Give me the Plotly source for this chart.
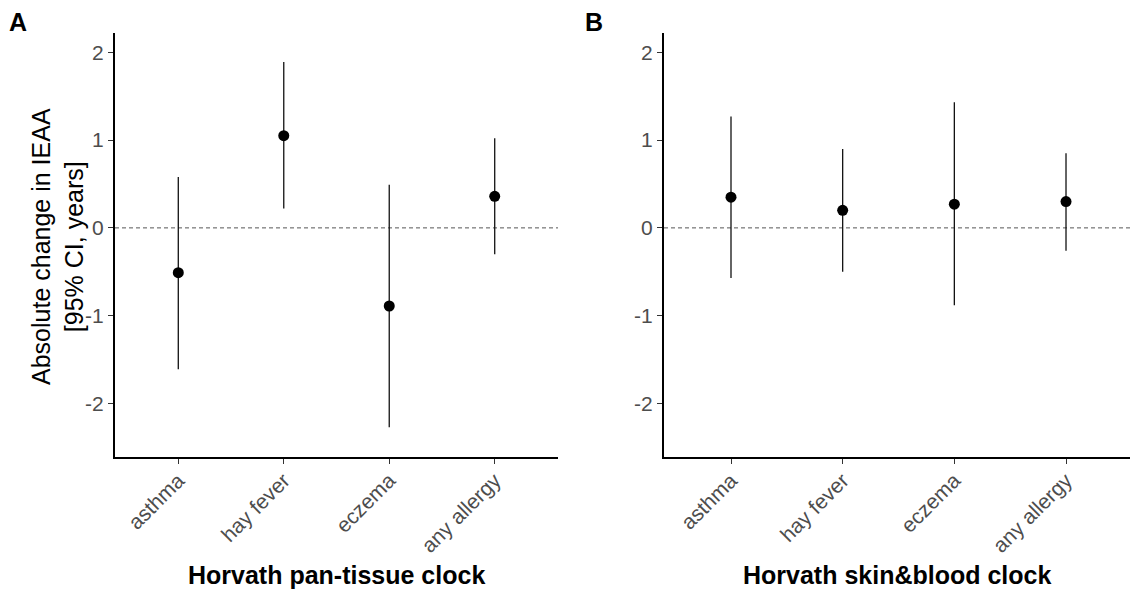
import plotly.graph_objects as go

categories = ["asthma", "hay fever", "eczema", "any allergy"]

# Panel A: Horvath pan-tissue clock
a_est = [-0.51, 1.05, -0.89, 0.36]
a_lo = [-1.61, 0.22, -2.27, -0.30]
a_hi = [0.58, 1.89, 0.49, 1.02]

# Panel B: Horvath skin&blood clock
b_est = [0.35, 0.20, 0.27, 0.30]
b_lo = [-0.57, -0.50, -0.88, -0.26]
b_hi = [1.27, 0.90, 1.43, 0.85]

y_ticks = [-2, -1, 0, 1, 2]
y_ticklabels = ["-2", "-1", "0", "1", "2"]

panel_titles = ["Horvath pan-tissue clock", "Horvath skin&blood clock"]
panel_tags = ["A", "B"]
y_title = "Absolute change in IEAA<br>[95% CI, years]"

FONT = "Liberation Sans, Arial, sans-serif"
W, H = 1130, 590
TOP, BOT = 33, 457

fig = go.Figure()

xpos = [1, 2, 3, 4]
for i, (est, lo, hi) in enumerate([(a_est, a_lo, a_hi), (b_est, b_lo, b_hi)]):
    xa = "x" if i == 0 else "x2"
    ya = "y" if i == 0 else "y2"
    fig.add_trace(go.Scatter(
        x=xpos, y=est,
        mode="markers",
        marker=dict(color="black", size=11),
        error_y=dict(type="data", symmetric=False,
                     array=[h - e for h, e in zip(hi, est)],
                     arrayminus=[e - l for e, l in zip(est, lo)],
                     color="#111111", thickness=1.3, width=0),
        xaxis=xa, yaxis=ya, showlegend=False, hoverinfo="skip",
    ))

common_x = dict(
    tickmode="array", tickvals=xpos, ticktext=categories, tickangle=-45,
    showline=True, linecolor="black", linewidth=2, showgrid=False, zeroline=False,
    ticks="outside", ticklen=5, tickcolor="#333333", tickwidth=1,
    ticklabelstandoff=-4,
    tickfont=dict(family=FONT, size=21, color="#4D4D4D"),
)
common_y = dict(
    range=[-2.61, 2.22], tickmode="array", tickvals=y_ticks, ticktext=y_ticklabels,
    showline=True, linecolor="black", linewidth=2, showgrid=False, zeroline=False,
    ticks="outside", ticklen=5, tickcolor="#333333", tickwidth=1,
    tickfont=dict(family=FONT, size=21, color="#4D4D4D"),
)

dA = [115 / W, 558 / W]
dB = [664 / W, 1.0]

fig.update_layout(
    width=W, height=H,
    margin=dict(l=0, r=0, t=TOP, b=H - BOT, autoexpand=False),
    paper_bgcolor="white", plot_bgcolor="white",
    xaxis=dict(domain=dA, range=[0.4, 4.6], anchor="y", **common_x),
    yaxis=dict(domain=[0, 1], anchor="x", **common_y),
    xaxis2=dict(domain=dB, range=[0.4, 4.573], anchor="y2", **common_x),
    yaxis2=dict(domain=[0, 1], anchor="x2", **common_y),
    font=dict(family=FONT),
)

# dashed zero reference lines
for xr, yr in [("x domain", "y"), ("x2 domain", "y2")]:
    fig.add_shape(type="line", xref=xr, yref=yr, x0=0, x1=1, y0=0, y1=0,
                  line=dict(color="#555555", width=1, dash="4px,3px"), layer="below")

ph = BOT - TOP
def py(pix):
    return (BOT - pix) / ph

# x titles
for d, t in zip([dA, dB], panel_titles):
    fig.add_annotation(text="<b>%s</b>" % t, xref="paper", yref="paper",
                       x=(d[0] + d[1]) / 2, y=py(575), xanchor="center", yanchor="middle",
                       showarrow=False, font=dict(family=FONT, size=25, color="black"))

# panel tags
for xp, t in zip([18, 594], panel_tags):
    fig.add_annotation(text="<b>%s</b>" % t, xref="paper", yref="paper",
                       x=xp / W, y=py(22), xanchor="center", yanchor="middle",
                       showarrow=False, font=dict(family=FONT, size=25, color="black"))

# y title
fig.add_annotation(text=y_title, xref="paper", yref="paper",
                   x=57 / W, y=py(247), xanchor="center", yanchor="middle",
                   textangle=-90, showarrow=False,
                   font=dict(family=FONT, size=25, color="black"))

fig.write_html(
    "out.html",
    config={"displayModeBar": False},
    post_script=("document.documentElement.style.overflow='hidden';"
                 "document.body.style.margin='0';document.body.style.overflow='hidden';"),
)
